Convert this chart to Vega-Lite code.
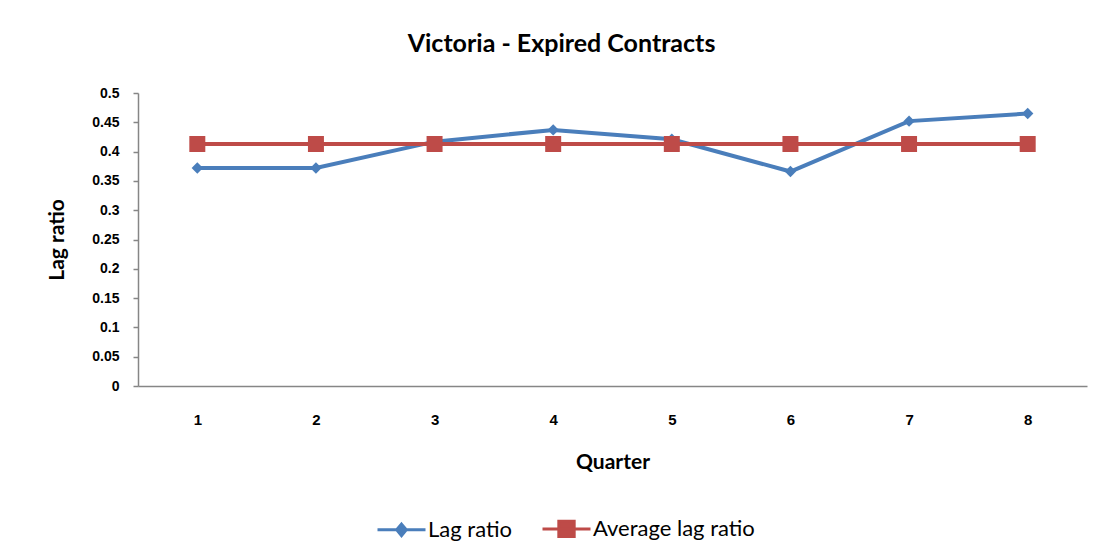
{
  "$schema": "https://vega.github.io/schema/vega-lite/v6.json",
  "width": 949,
  "height": 293,
  "autosize": {"type": "none"},
  "padding": {"left": 138, "top": 93, "right": 14, "bottom": 169},
  "background": "white",
  "title": {"text": "Victoria - Expired Contracts", "font": "Lato", "fontSize": 25, "fontWeight": "bold", "color": "#000000", "anchor": "middle", "dx": -51, "offset": 29},
  "data": {"values": [
    {"quarter": "1", "series": "Lag ratio", "value": 0.372},
    {"quarter": "2", "series": "Lag ratio", "value": 0.372},
    {"quarter": "3", "series": "Lag ratio", "value": 0.417},
    {"quarter": "4", "series": "Lag ratio", "value": 0.437},
    {"quarter": "5", "series": "Lag ratio", "value": 0.421},
    {"quarter": "6", "series": "Lag ratio", "value": 0.366},
    {"quarter": "7", "series": "Lag ratio", "value": 0.452},
    {"quarter": "8", "series": "Lag ratio", "value": 0.465},
    {"quarter": "1", "series": "Average lag ratio", "value": 0.413},
    {"quarter": "2", "series": "Average lag ratio", "value": 0.413},
    {"quarter": "3", "series": "Average lag ratio", "value": 0.413},
    {"quarter": "4", "series": "Average lag ratio", "value": 0.413},
    {"quarter": "5", "series": "Average lag ratio", "value": 0.413},
    {"quarter": "6", "series": "Average lag ratio", "value": 0.413},
    {"quarter": "7", "series": "Average lag ratio", "value": 0.413},
    {"quarter": "8", "series": "Average lag ratio", "value": 0.413}
  ]},
  "encoding": {
    "x": {
      "field": "quarter", "type": "ordinal", "title": "Quarter",
      "scale": {"type": "point", "padding": 0.5},
      "axis": {
        "labelAngle": 0, "ticks": false, "domainColor": "#868686", "domainWidth": 1.5,
        "labelFont": "Liberation Sans", "labelFontSize": 15, "labelFontWeight": "bold", "labelColor": "#000000",
        "labelPadding": 26, "labelBaseline": "top",
        "titleFont": "Lato", "titleFontSize": 21, "titleFontWeight": "bold", "titleColor": "#000000",
        "titleY": 76, "titleBaseline": "middle"
      }
    },
    "y": {
      "field": "value", "type": "quantitative", "title": "Lag ratio",
      "scale": {"domain": [0, 0.5], "nice": false, "zero": true},
      "axis": {
        "values": [0, 0.05, 0.1, 0.15, 0.2, 0.25, 0.3, 0.35, 0.4, 0.45, 0.5],
        "format": "~g", "grid": false,
        "domainColor": "#868686", "domainWidth": 1.5, "tickColor": "#868686", "tickSize": 5, "tickWidth": 1.5,
        "labelFont": "Liberation Sans", "labelFontSize": 14, "labelFontWeight": "bold", "labelColor": "#000000",
        "labelPadding": 14,
        "titleFont": "Lato", "titleFontSize": 21, "titleFontWeight": "bold", "titleColor": "#000000",
        "titleX": -81, "titleY": 146.5, "titleBaseline": "middle", "titleAlign": "center", "titleAngle": -90
      }
    },
    "color": {
      "field": "series", "type": "nominal", "title": null,
      "scale": {"domain": ["Lag ratio", "Average lag ratio"], "range": ["#4a7ebb", "#be4b48"]},
      "legend": {
        "orient": "none", "legendX": 238, "legendY": 410, "direction": "horizontal",
        "labelFont": "Lato", "labelFontSize": 22, "labelColor": "#000000", "labelOffset": 1, "labelLimit": 400,
        "columnPadding": 24, "symbolSize": 2304, "symbolStrokeWidth": 3,
        "encode": {
          "symbols": {
            "update": {
              "shape": {"signal": "datum.value === 'Lag ratio' ? 'M-1,0H1M0,-0.24L0.2,0L0,0.24L-0.2,0Z' : 'M-1,0H1M-0.32,-0.32H0.32V0.32H-0.32Z'"},
              "fill": {"scale": "color", "field": "value"},
              "stroke": {"scale": "color", "field": "value"},
              "strokeWidth": {"value": 3},
              "size": {"value": 2304},
              "opacity": {"value": 1}
            }
          }
        }
      }
    }
  },
  "layer": [
    {"mark": {"type": "line", "strokeWidth": 4}},
    {
      "transform": [{"filter": "datum.series === 'Lag ratio'"}],
      "mark": {"type": "point", "filled": true, "opacity": 1, "shape": "diamond", "size": 130}
    },
    {
      "transform": [{"filter": "datum.series === 'Average lag ratio'"}],
      "mark": {"type": "point", "filled": true, "opacity": 1, "shape": "square", "size": 256}
    }
  ],
  "config": {"view": {"stroke": null}}
}
